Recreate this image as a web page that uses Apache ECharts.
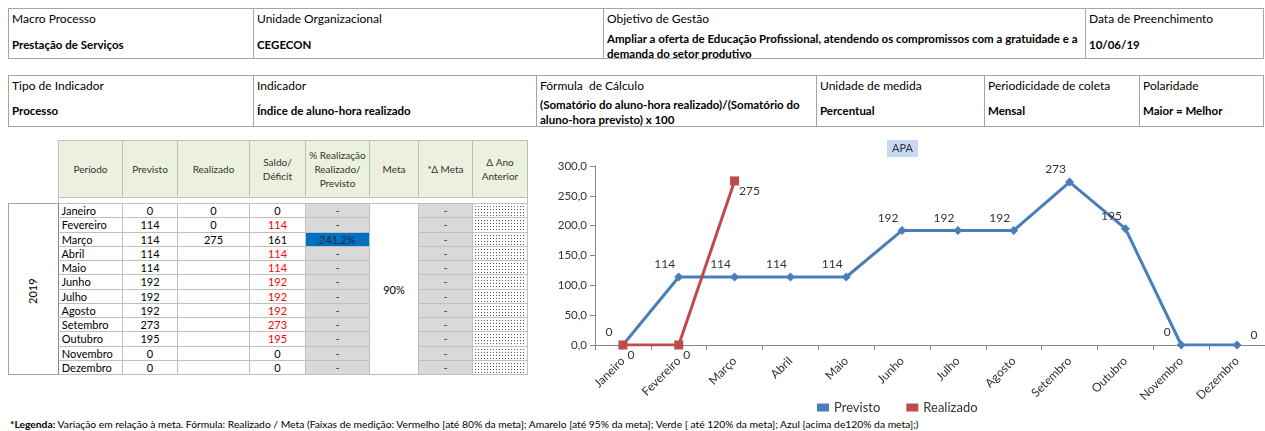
<!DOCTYPE html>
<html>
<head>
<meta charset="utf-8">
<script src="https://cdn.jsdelivr.net/npm/echarts@6/dist/echarts.min.js"></script>
<style>
body{margin:0;width:1265px;height:431px;overflow:hidden;background:#fff;font-family:Lato,'Liberation Sans',sans-serif;color:#000;position:relative}
.c{position:absolute;box-sizing:border-box;font-size:12px;line-height:14px;white-space:nowrap}
.b{font-weight:bold}
.dots{background-color:#fff;background-image:radial-gradient(#555 0.7px,transparent 0.9px);background-size:3px 3px}
</style>
</head>
<body>
<div id="page"></div>
<div id="chart" style="position:absolute;left:540px;top:132px;width:725px;height:288px"></div>
<script>
// dados
var meses = ['Janeiro','Fevereiro','Março','Abril','Maio','Junho','Julho','Agosto','Setembro','Outubro','Novembro','Dezembro'];
var previsto = [0,114,114,114,114,192,192,192,273,195,0,0];
var realizado = [0,0,275,null,null,null,null,null,null,null,null,null];
var saldo = [0,114,161,114,114,192,192,192,273,195,0,0];
var realizacao = ['-','-','241,2%','-','-','-','-','-','-','-','-','-'];
var deltaMeta = ['-','-','-','-','-','-','-','-','-','-','-','-'];
var meta = '90%';
var ano = '2019';
var cabecalho = ['Período','Previsto','Realizado','Saldo/<br>Déficit','% Realização<br>Realizado/<br>Previsto','Meta','*Δ Meta','Δ Ano<br>Anterior'];

var page = document.getElementById('page');
function box(x,y,w,h,html,css){
	var d = document.createElement('div');
	d.className = 'c';
	d.style.cssText = 'left:'+x+'px;top:'+y+'px;width:'+w+'px;height:'+h+'px;'+(css||'');
	d.innerHTML = (html===null||html===undefined) ? '' : String(html);
	page.appendChild(d);
	return d;
}
function info(x,y,w,h,label,value,vTop,lh){
	box(x,y,w,h,
		'<div style="position:absolute;left:3px;top:3px">'+label+'</div>'+
		'<div class="b" style="position:absolute;left:3px;top:'+vTop+'px;line-height:'+(lh||14)+'px;font-size:11.5px">'+value+'</div>',
		'border:1px solid #a6a6a6;');
}

// bloco 1
info(8,8,246,51,'Macro Processo','Prestação de Serviços',29);
info(253,8,351,51,'Unidade Organizacional','CEGECON',29);
info(603,8,483,51,'Objetivo de Gestão','Ampliar a oferta de Educação Profissional, atendendo os compromissos com a gratuidade e a<br>demanda do setor produtivo',22,15);
info(1085,8,179,51,'Data de Preenchimento','10/06/19',29);

// bloco 2
info(8,75,246,52,'Tipo de Indicador','Processo',28);
info(253,75,284,52,'Indicador','Índice de aluno-hora realizado',28);
info(536,75,281,52,'Fórmula &nbsp;de Cálculo','(Somatório do aluno-hora realizado)/(Somatório do<br>aluno-hora previsto) x 100',20.5,15);
info(816,75,169,52,'Unidade de medida','Percentual',28);
info(984,75,156,52,'Periodicidade de coleta','Mensal',28);
info(1139,75,125,52,'Polaridade','Maior = Melhor',28);

// tabela
var colX = [58,122,177,249,305,369,418,472,527];
for (var i=0;i<cabecalho.length;i++){
	var w = colX[i+1]-colX[i];
	box(colX[i],140,w+1,58,
		'<div style="display:flex;height:100%;align-items:center;justify-content:center;text-align:center;font-size:10px;line-height:14px;color:#333">'+cabecalho[i]+'</div>',
		'background:#ebf1de;border:1px solid #bfbfbf;');
}
box(58,197,470,7,'','border:1px solid #bfbfbf;border-top:none;');
var rowTop = 203, rowH = 14.25;
box(8,rowTop,51,172,'<div style="position:absolute;left:17px;top:100px;transform:rotate(-90deg);transform-origin:0 0;font-size:11px">'+ano+'</div>','border:1px solid #a6a6a6;border-right:none;');
box(369,rowTop,50,172,'<div style="position:absolute;width:100%;text-align:center;top:79px;font-size:11px">'+meta+'</div>','border:1px solid #bfbfbf;');
for (var r=0;r<12;r++){
	var y = Math.round(rowTop + r*rowH);
	var h = Math.round(rowTop + (r+1)*rowH) - y + 1;
	var cs = 'border:1px solid #bfbfbf;font-size:11px;line-height:'+(h-2)+'px;';
	box(58,y,65,h,'&nbsp;'+meses[r],cs+'border-left-color:#888;');
	box(122,y,56,h,previsto[r],cs+'text-align:center;');
	box(177,y,73,h,realizado[r],cs+'text-align:center;');
	var red = previsto[r] > (realizado[r]||0);
	box(249,y,57,h,saldo[r],cs+'text-align:center;color:'+(red?'#ff0000':'#000')+';');
	var blue = realizacao[r] !== '-';
	box(305,y,65,h,realizacao[r],cs+'text-align:center;background:'+(blue?'#0070c0':'#d9d9d9')+';color:'+(blue?'#1f2d3d':'#444')+';');
	box(418,y,55,h,deltaMeta[r],cs+'text-align:center;background:#d9d9d9;color:#444;');
	box(472,y,56,h,'',cs);
	box(474,y+2,52,h-3,'','').className='c dots';
}

// rodapé
box(10,418,900,12,'<b>*Legenda:</b> Variação em relação à meta. Fórmula: Realizado / Meta (Faixas de medição: Vermelho [até 80% da meta]; Amarelo [até 95% da meta]; Verde [ até 120% da meta]; Azul [acima de120% da meta];)','font-size:10.3px;line-height:12px;');

// grafico
var myChart = echarts.init(document.getElementById('chart'));
var prevData = previsto.map(function(v,i){
	if (i === previsto.length-1) return {value:v,label:{position:'right',offset:[4,-10]}};
	return v;
});
var option = {
	animation:false,
	textStyle:{fontFamily:'Lato'},
	title:{
		text:'APA',left:'center',top:8,
		backgroundColor:'#c6d9f1',padding:[3,5],
		textStyle:{fontSize:11,fontWeight:'normal',color:'#333'}
	},
	legend:{
		data:['Previsto','Realizado'],
		left:272,top:264,itemWidth:12,itemHeight:8,itemGap:26,
		icon:'rect',
		textStyle:{fontSize:13,color:'#333'}
	},
	grid:{left:55,right:0,top:34,bottom:75,containLabel:false},
	xAxis:{
		type:'category',data:meses,boundaryGap:true,
		axisLine:{lineStyle:{color:'#868686'}},
		axisTick:{show:true,lineStyle:{color:'#868686'}},
		axisLabel:{rotate:45,fontSize:12,color:'#333',interval:0,margin:14}
	},
	yAxis:{
		type:'value',min:0,max:300,interval:50,
		axisLine:{show:true,lineStyle:{color:'#868686'}},
		axisTick:{show:true,lineStyle:{color:'#868686'}},
		splitLine:{show:false},
		axisLabel:{fontSize:11.5,color:'#333',formatter:function(v){return v.toFixed(1).replace('.',',');}}
	},
	series:[
		{
			name:'Previsto',type:'line',data:prevData,
			color:'#4a7ebb',symbol:'diamond',symbolSize:9,
			lineStyle:{width:3},
			label:{show:true,position:'top',offset:[-14,3],fontSize:12,color:'#333'}
		},
		{
			name:'Realizado',type:'line',data:realizado,
			color:'#be4b48',symbol:'rect',symbolSize:9,
			lineStyle:{width:3},
			label:{show:true,position:'right',offset:[-5,10],fontSize:12,color:'#333'}
		}
	]
};
myChart.setOption(option);
</script>
</body>
</html>
